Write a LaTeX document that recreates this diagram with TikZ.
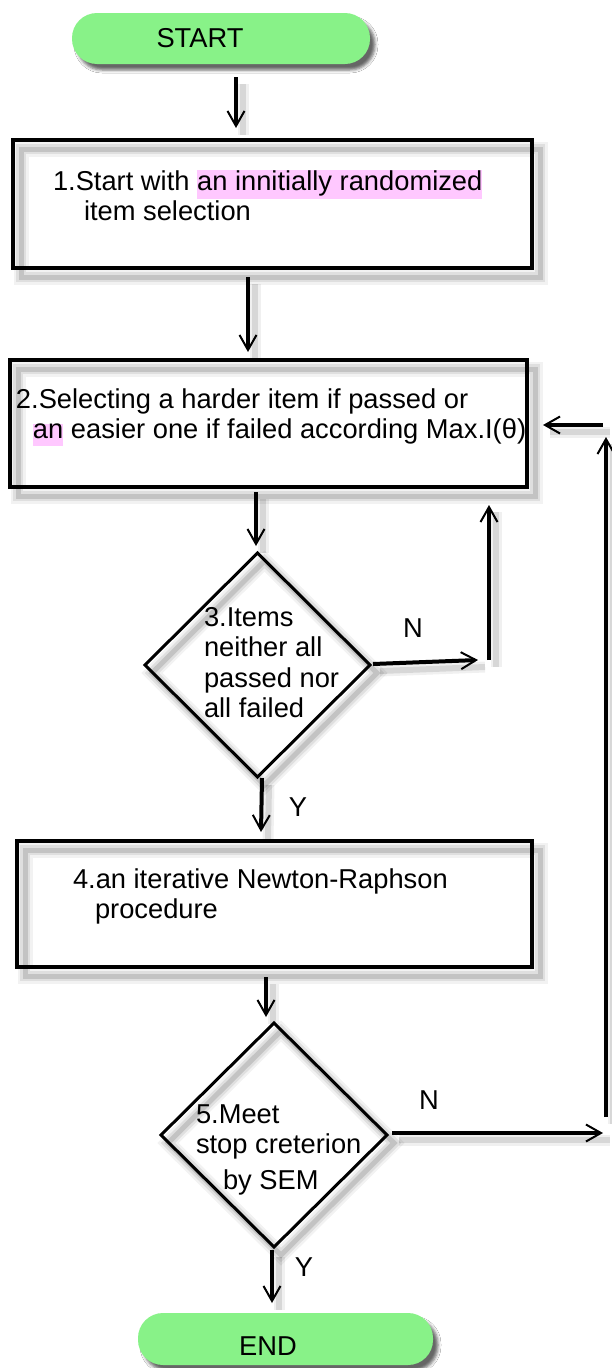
\documentclass[tikz,border=0pt]{standalone}
\usepackage{fontspec}
\setmainfont{Liberation Sans}
\usetikzlibrary{shapes.geometric,arrows.meta,calc,shadows.blur}

\definecolor{pillgreen}{RGB}{136,242,136}
\definecolor{hlpink}{RGB}{255,200,255}

\newcommand\bodyfont{\fontsize{27.3pt}{30.5pt}\selectfont}
% strut that fixes the height of the first line of a text block
\newcommand\fl{\vrule height 21pt depth 0pt width 0pt}
% highlighted words: height, depth, text
\newcommand\hlmark[3]{{\setlength{\fboxsep}{0pt}\colorbox{hlpink}{\vrule height #1 depth #2 width 0pt #3}}}

\tikzset{
  softshade/.style={
    preaction={draw=black, draw opacity=0.05, line width=15pt, transform canvas={shift={(#1)}}},
    preaction={draw=black, draw opacity=0.08, line width=10pt, transform canvas={shift={(#1)}}},
    preaction={draw=black, draw opacity=0.12, line width=5pt, transform canvas={shift={(#1)}}}},
  softshade/.default={8pt,-9pt},
  arrowshade/.style={
    preaction={arrows=-, draw=black, draw opacity=0.06, line width=11pt, transform canvas={shift={(7pt,-7pt)}}},
    preaction={arrows=-, draw=black, draw opacity=0.10, line width=6pt, transform canvas={shift={(7pt,-7pt)}}}},
  procbox/.style={rectangle, draw=black, line width=3.5pt, inner sep=0pt, outer sep=0pt, softshade},
  decision/.style={diamond, draw=black, line width=3pt, inner sep=0pt, outer sep=0pt, softshade={7pt,-8pt}},
  pill/.style={rectangle, rounded corners=25pt, fill=pillgreen, minimum height=51pt, inner sep=0pt,
    outer sep=0pt, font=\bodyfont,
    blur shadow={shadow xshift=5pt, shadow yshift=-6pt, shadow blur radius=3pt, shadow opacity=60}},
  txt/.style={anchor=north west, inner sep=0pt, outer sep=0pt, align=left, font=\bodyfont},
  lbl/.style={inner sep=0pt, font=\bodyfont},
  arr/.style={line width=4pt, -{Straight Barb[length=15pt,width=17pt,line width=2pt]}, arrowshade},
}

\begin{document}
\begin{tikzpicture}[x=1pt,y=-1pt]
\fill[white] (0,0) rectangle (611,1368);
\useasboundingbox (0,0) rectangle (611,1368);

% terminals
\node[pill, minimum width=298pt] (start) at (221,38.5) {START\hspace*{42pt}};
\node[pill, minimum width=295pt, minimum height=52pt, text height=33.5pt, text depth=0pt]
  (end) at (285.5,1339) {END\hspace*{35pt}};

% process boxes
\node[procbox, minimum width=519pt, minimum height=128pt] (b1) at (272.5,204) {};
\node[txt] (t1) at (53,169) {\fl 1.Start with \hlmark{19pt}{9pt}{an innitially randomized}\\\hspace*{31pt}item selection};

\node[procbox, minimum width=517pt, minimum height=127pt] (b2) at (268.5,423.5) {};
\node[txt] (t2) at (16,387) {\fl 2.Selecting a harder item if passed or\\\hspace*{17pt}\hlmark{15pt}{7pt}{an} easier one if failed according Max.I(θ)};

\node[procbox, minimum width=515pt, minimum height=126pt] (b4) at (274.5,904) {};
\node[txt] (t4) at (73,867) {\fl 4.an iterative Newton-Raphson\\\hspace*{22pt}procedure};

% decisions
\node[decision, minimum width=225pt, minimum height=224pt] (d3) at (257.5,665) {};
\node[txt] (t3) at (204,605) {\fl 3.Items\\neither all\\passed nor\\all failed};

\node[decision, minimum width=226pt, minimum height=224pt] (d5) at (274,1135) {};
\node[txt] (t5) at (196,1102) {\fl 5.Meet\\stop creterion\\[5.5pt]\hspace*{27pt}by SEM};

% branch labels
\node[lbl] (n3) at (413,628) {N};
\node[lbl] (y3) at (298,807) {Y};
\node[lbl] (n5) at (429,1100) {N};
\node[lbl] (y5) at (304,1267) {Y};

% corners of the return paths
\coordinate (r3) at (489,660);
\coordinate (r5) at (606,1133);
\coordinate (r2) at (606,425);

% main flow
\draw[arr] ($(start.south)+(15,13)$) -- ($(b1.north)+(-36.5,-12)$);
\draw[arr] ($(b1.south)+(-24.5,9)$) -- ($(b2.north)+(-20.5,-8)$);
\draw[arr] ($(b2.south)+(-12.5,5)$) -- ($(d3.north)+(-1.5,-7)$);
\draw[arr] ($(d3.south)+(4.5,1)$) -- ($(b4.north)+(-13.5,-9)$);
\draw[arr] ($(b4.south)+(-8.5,10)$) -- ($(d5.north)+(-8,-6)$);
\draw[arr] ($(d5.south)+(-2,3)$) -- ($(end.north)+(-13.5,-10)$);

% return from decision 3
\draw[arr] ($(d3.east)+(3,-1)$) -- ($(r3)+(-11,0)$);
\draw[arr] (r3) -- ($(b2.south east)+(-38,18)$);

% return from decision 5
\draw[arr] ($(d5.east)+(5,-2)$) -- ($(r5)+(-3,0)$);
\draw[arr] ($(r5)+(0,-16)$) -- ($(r2)+(0,12)$);
\draw[arr] ($(r2)+(-3,0)$) -- ($(b2.east)+(16,1.5)$);
\end{tikzpicture}
\end{document}
